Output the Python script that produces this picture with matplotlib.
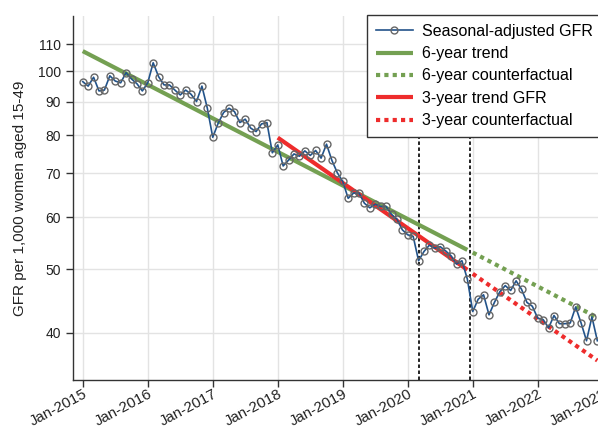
import numpy as np
import matplotlib
matplotlib.use("Agg")
import matplotlib.pyplot as plt
from matplotlib.ticker import FixedLocator, NullLocator, FixedFormatter

plt.rcParams['font.family'] = ['Liberation Sans', 'DejaVu Sans']

# Seasonal-adjusted GFR, monthly Jan-2015 .. Dec-2022
gfr_2015 = [96.5, 95.0, 98.0, 93.4, 93.7, 98.5, 96.7, 96.1, 99.6, 97.4, 95.8, 93.4]
gfr_2016 = [96.1, 103.1, 98.2, 95.4, 95.4, 93.7, 92.1, 93.7, 92.3, 90.0, 95.0, 87.9]
gfr_2017 = [79.4, 83.4, 86.6, 87.9, 86.9, 83.6, 84.6, 82.0, 81.0, 83.2, 83.6, 75.2]
gfr_2018 = [77.3, 71.8, 73.3, 74.9, 74.3, 75.7, 74.5, 75.8, 73.8, 77.5, 73.2, 70.1]
gfr_2019 = [68.0, 64.1, 65.3, 65.3, 63.0, 62.0, 62.8, 62.3, 62.3, 60.6, 59.6, 57.4]
gfr_2020 = [56.4, 56.1, 51.5, 53.2, 54.4, 53.8, 54.1, 53.3, 52.4, 50.9, 51.5, 48.3]
gfr_2021 = [43.1, 45.0, 45.7, 42.6, 44.5, 46.2, 47.2, 46.4, 48.0, 46.6, 44.5, 43.9]
gfr_2022 = [42.1, 41.9, 40.7, 42.5, 41.3, 41.3, 41.4, 43.8, 41.4, 38.9, 42.3, 38.9]
years = [2015, 2016, 2017, 2018, 2019, 2020, 2021, 2022]

gfr = gfr_2015 + gfr_2016 + gfr_2017 + gfr_2018 + gfr_2019 + gfr_2020 + gfr_2021 + gfr_2022
dates = [y + m / 12 for y in years for m in range(12)]

# Trend lines (endpoints)
trend6_x = [2015.0, 2020 + 11 / 12]
trend6_y = [107.4, 53.5]
cf6_x = [2021.0, 2022 + 11 / 12]
cf6_y = [53.0, 42.2]
trend3_x = [2018.0, 2020 + 11 / 12]
trend3_y = [79.3, 49.9]
cf3_x = [2021.0, 2022 + 11 / 12]
cf3_y = [49.2, 36.3]

vlines = [2020.17, 2020.96]
xtick_years = [2015, 2016, 2017, 2018, 2019, 2020, 2021, 2022, 2023]
xtick_labels = ['Jan-%d' % y for y in xtick_years]
yticks = [40, 50, 60, 70, 80, 90, 100, 110]

fig = plt.figure(figsize=(5.98, 4.28), dpi=100)
W, H = 598, 428
px_per_year = 65.0
x0 = 2014.85
x1 = 2023.3
left = 73
ax = fig.add_axes([left / W, (H - 380) / H, (x1 - x0) * px_per_year / W, (380 - 15.7) / H])

navy = '#22538a'
green = '#74a052'
red = '#ee2c2c'

ax.set_yscale('log')
ax.set_xlim(x0, x1)
ax.set_ylim(33.9, 121.6)

ax.grid(True, color='#e3e3e3', lw=1.0, zorder=0)
ax.set_axisbelow(True)

for v in vlines:
    ax.axvline(v, color='#222222', lw=1.4, ls=(0, (1.8, 1.3)), zorder=2)

ax.plot(trend6_x, trend6_y, color=green, lw=3.0, solid_capstyle='butt', zorder=3, label='6-year trend')
ax.plot(cf6_x, cf6_y, color=green, lw=3.0, ls=(0, (1, 1)), zorder=3, label='6-year counterfactual')
ax.plot(trend3_x, trend3_y, color=red, lw=3.0, solid_capstyle='butt', zorder=3, label='3-year trend GFR')
ax.plot(cf3_x, cf3_y, color=red, lw=3.0, ls=(0, (1, 1)), zorder=3, label='3-year counterfactual')
ax.plot(dates, gfr, color=navy, lw=1.2, marker='o', ms=5.0, mfc='none', mec='#666666',
        mew=1.0, zorder=4, label='Seasonal-adjusted GFR')

ax.yaxis.set_major_locator(FixedLocator(yticks))
ax.yaxis.set_major_formatter(FixedFormatter([str(v) for v in yticks]))
ax.yaxis.set_minor_locator(NullLocator())
ax.set_xticks(xtick_years)
ax.set_xticklabels(xtick_labels, rotation=28, ha='right', rotation_mode='anchor')
ax.tick_params(axis='both', length=5, width=1, color='#333333', labelcolor='#222222')
ax.tick_params(axis='y', labelsize=10)
ax.tick_params(axis='x', labelsize=10.8, pad=0)

for s in ['top', 'right']:
    ax.spines[s].set_visible(False)
for s in ['left', 'bottom']:
    ax.spines[s].set_color('#333333')
    ax.spines[s].set_linewidth(1.0)

ax.set_ylabel('GFR per 1,000 women aged 15-49', fontsize=11, color='#222222', labelpad=8)

handles, labels = ax.get_legend_handles_labels()
order = [4, 0, 1, 2, 3]
leg = ax.legend([handles[i] for i in order], [labels[i] for i in order],
                loc='upper left', bbox_to_anchor=(367 / W, 1 - 15 / H),
                bbox_transform=fig.transFigure, fontsize=11.5, frameon=True,
                fancybox=False, edgecolor='#333333', framealpha=1,
                handlelength=2.3, handletextpad=0.6, labelspacing=0.46,
                borderpad=0.55, borderaxespad=0)
leg.get_frame().set_linewidth(1.0)

fig.savefig('out.png', dpi=100)
